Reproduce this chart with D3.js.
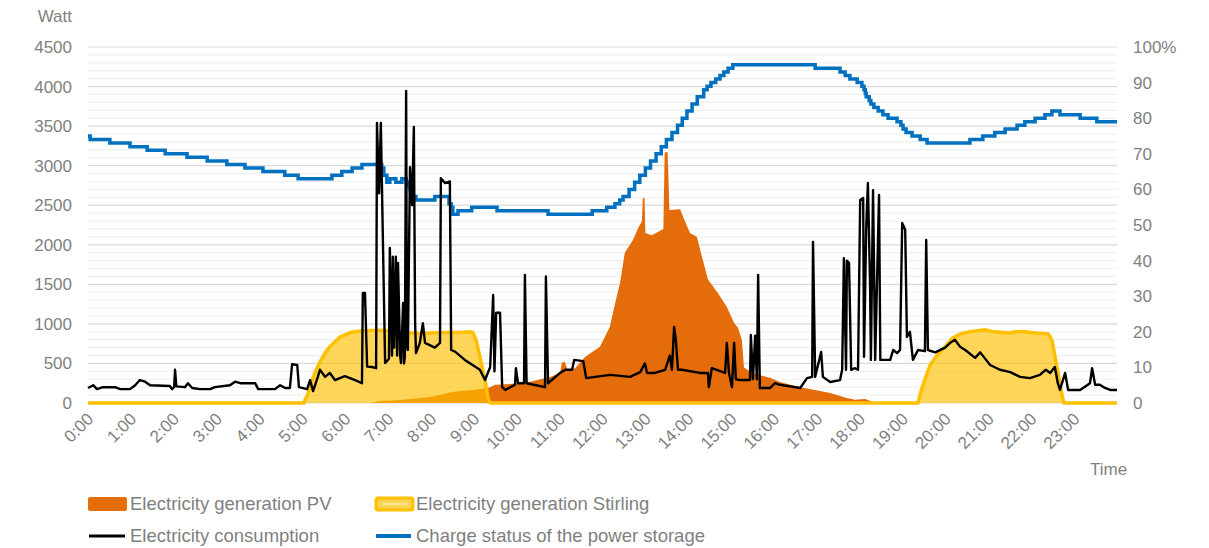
<!DOCTYPE html>
<html>
<head>
<meta charset="utf-8">
<script src="https://cdn.jsdelivr.net/npm/d3@7"></script>
<style>
  body { margin: 0; background: #fff; }
  svg text { font-family: "Liberation Sans", Arial, sans-serif; fill: #7f7f7f; }
</style>
</head>
<body>
<svg id="chart" width="1209" height="548"></svg>
<script>
// tick values
const hours = d3.range(0, 24);
const wattTicks = d3.range(0, 4501, 500);
const pctTicks = d3.range(0, 101, 10);

// [hour, watt]
const pv = [
  [0,0],[6.6,0],[6.8,25],[7.2,35],[7.6,55],[8.0,80],[8.2,100],[8.5,140],[8.75,155],[9.0,165],
  [9.2,180],[9.38,200],[9.49,230],[9.84,240],[10.31,270],[10.78,330],[11.01,380],[11.05,510],
  [11.12,520],[11.18,430],[11.24,420],[11.36,440],[11.59,580],[11.94,710],[12.17,960],[12.29,1250],
  [12.41,1520],[12.52,1900],[12.71,2060],[12.83,2210],[12.92,2300],[12.94,2590],[12.98,2590],
  [13.0,2150],[13.15,2120],[13.29,2160],[13.42,2200],[13.45,3170],[13.52,3170],[13.56,2440],
  [13.81,2450],[13.92,2300],[14.04,2150],[14.2,2100],[14.32,1850],[14.46,1560],[14.69,1390],
  [14.9,1215],[15.07,1010],[15.16,950],[15.25,800],[15.3,450],[15.49,380],[15.67,350],[15.91,320],
  [16.14,265],[16.61,200],[16.96,165],[17.31,125],[17.7,63],[17.89,40],[18.12,50],[18.29,20],
  [18.43,0],[24,0]
];

const stirling = [
  [0,0],[5.04,0],[5.06,40],[5.12,100],[5.18,205],[5.29,380],[5.41,520],[5.53,630],[5.64,710],
  [5.76,775],[5.88,835],[5.99,860],[6.11,890],[6.34,910],[6.81,920],[7.28,895],[7.74,880],
  [8.21,890],[8.68,890],[8.91,900],[8.98,890],[9.05,800],[9.14,585],[9.26,290],[9.33,60],[9.38,0],
  [19.36,0],[19.43,150],[19.52,300],[19.64,480],[19.8,600],[19.99,710],[20.17,825],[20.38,880],
  [20.57,900],[20.92,925],[21.08,905],[21.27,895],[21.5,885],[21.62,900],[21.85,900],[22.09,885],
  [22.39,875],[22.48,800],[22.55,600],[22.62,400],[22.69,180],[22.76,0],[24,0]
];

const consumption = [
  [0,190],[0.12,225],[0.21,175],[0.35,200],[0.63,200],[0.75,175],[0.98,175],[1.1,225],[1.21,290],
  [1.33,270],[1.45,225],[1.91,215],[1.96,175],[2.01,200],[2.03,420],[2.06,210],[2.26,200],[2.33,250],
  [2.43,190],[2.61,175],[2.85,175],[2.96,200],[3.31,225],[3.43,270],[3.55,250],[3.9,250],[3.97,175],
  [4.36,175],[4.48,225],[4.6,190],[4.71,190],[4.76,490],[4.88,480],[4.92,200],[5.11,175],[5.18,290],
  [5.25,150],[5.36,330],[5.41,420],[5.53,330],[5.64,380],[5.76,290],[5.99,340],[6.23,290],[6.39,250],
  [6.41,1390],[6.46,1390],[6.51,460],[6.62,455],[6.72,440],[6.74,3540],[6.79,2650],[6.83,3540],
  [6.88,2000],[6.93,505],[7.02,560],[7.04,1960],[7.09,600],[7.11,1850],[7.14,700],[7.18,1850],
  [7.21,600],[7.23,1770],[7.28,600],[7.3,505],[7.35,1265],[7.37,500],[7.39,580],[7.42,3945],
  [7.44,700],[7.46,670],[7.51,2980],[7.56,2500],[7.6,3490],[7.63,1000],[7.65,630],[7.74,760],
  [7.81,1010],[7.86,760],[8.09,700],[8.21,760],[8.23,2840],[8.33,2780],[8.44,2800],[8.47,670],
  [8.56,650],[8.79,545],[9.14,420],[9.26,290],[9.38,455],[9.45,1365],[9.48,400],[9.52,1140],
  [9.61,1140],[9.66,200],[9.73,165],[9.96,230],[9.98,440],[10.03,250],[10.17,250],[10.19,1620],
  [10.23,250],[10.66,200],[10.68,1600],[10.73,250],[11.01,380],[11.13,420],[11.29,420],[11.34,545],
  [11.55,530],[11.62,315],[11.83,330],[12.18,355],[12.64,330],[12.88,390],[12.99,500],[13.04,380],
  [13.22,380],[13.46,420],[13.57,600],[13.62,420],[13.67,960],[13.71,800],[13.76,420],[13.85,420],
  [14.27,380],[14.46,380],[14.48,200],[14.55,440],[14.86,380],[14.9,760],[14.95,380],[15.02,200],
  [15.07,760],[15.11,300],[15.21,290],[15.44,290],[15.46,860],[15.51,300],[15.56,850],[15.6,300],
  [15.63,1620],[15.67,190],[15.91,190],[16.02,250],[16.14,230],[16.49,200],[16.61,190],[16.77,315],
  [16.89,330],[16.91,2035],[16.96,330],[17.1,645],[17.14,330],[17.31,265],[17.54,290],[17.59,420],
  [17.63,1830],[17.68,420],[17.7,1800],[17.75,1770],[17.8,420],[17.89,440],[17.96,420],[18.01,2565],
  [18.08,2590],[18.1,585],[18.15,2200],[18.19,2780],[18.24,1515],[18.26,545],[18.31,2690],
  [18.36,545],[18.45,2630],[18.48,545],[18.71,545],[18.78,670],[18.87,630],[18.94,670],[18.99,2275],
  [19.06,2190],[19.1,835],[19.17,900],[19.24,545],[19.36,670],[19.52,655],[19.55,2060],[19.59,670],
  [19.76,640],[19.99,700],[20.11,760],[20.22,800],[20.34,710],[20.46,670],[20.69,570],[20.81,640],
  [21.04,480],[21.27,420],[21.51,390],[21.74,330],[21.97,315],[22.2,355],[22.34,420],[22.44,380],
  [22.55,455],[22.62,250],[22.67,165],[22.79,380],[22.86,165],[23.02,165],[23.14,165],[23.37,250],
  [23.42,440],[23.49,230],[23.6,230],[23.72,190],[23.84,165],[24,165]
];

// [hour, percent]
const charge = [
  [0,75],[0.05,74],[0.51,73],[0.98,72],[1.38,71],[1.8,70],[2.31,69],[2.78,68],[3.24,67],[3.66,66],
  [4.08,65],[4.59,64],[4.9,63],[5.69,64],[5.92,65],[6.16,66],[6.39,67],[6.85,66],[6.9,64],[6.97,62],
  [7.04,63],[7.18,62],[7.32,63],[7.42,62],[7.47,61],[7.51,60],[7.58,58],[7.65,57],[8.09,58],[8.42,56],
  [8.47,55],[8.51,53],[8.63,54],[8.95,55],[9.54,54],[10.73,53],[11.76,54],[12.1,55],[12.29,56],
  [12.4,57],[12.48,58],[12.62,60],[12.75,62],[12.87,64],[13.0,66],[13.12,68],[13.25,70],[13.37,72],
  [13.49,74],[13.62,76],[13.75,78],[13.86,80],[13.97,82],[14.09,84],[14.21,86],[14.36,88],[14.44,89],
  [14.53,90],[14.64,91],[14.74,92],[14.83,93],[14.93,94],[15.04,95],[16.96,94],[17.54,93],[17.66,92],
  [17.77,91],[17.94,90],[18.05,89],[18.1,88],[18.13,87],[18.15,86],[18.22,85],[18.26,84],[18.33,83],
  [18.43,82],[18.54,81],[18.66,80],[18.87,79],[18.96,78],[19.01,77],[19.08,76],[19.22,75],[19.41,74],
  [19.57,73],[20.57,74],[20.87,75],[21.15,76],[21.39,77],[21.67,78],[21.85,79],[22.09,80],[22.32,81],
  [22.48,82],[22.67,81],[23.14,80],[23.53,79],[24,79]
];

const svg = d3.select('#chart');
const plotLeft = 88, plotRight = 1117, plotTop = 47, plotBottom = 403;

const x = d3.scaleLinear().domain([0, 24]).range([plotLeft, plotRight]);
const yW = d3.scaleLinear().domain([0, 4500]).range([plotBottom, plotTop]);
const yP = d3.scaleLinear().domain([0, 100]).range([plotBottom, plotTop]);

// grid
svg.append('g')
  .selectAll('line')
  .data(d3.range(0, 4501, 100))
  .enter()
  .append('line')
  .attr('x1', plotLeft).attr('x2', plotRight)
  .attr('y1', d => yW(d)).attr('y2', d => yW(d))
  .attr('stroke', d => d % 500 === 0 ? '#d9d9d9' : '#f0f0f0')
  .attr('stroke-width', 1.2);

// areas
const area = d3.area().x(d => x(d[0])).y0(yW(0)).y1(d => yW(d[1]));
const edge = d3.line().x(d => x(d[0])).y(d => yW(d[1]));

svg.append('path').datum(pv)
  .attr('d', area)
  .attr('fill', '#e46c0a');

svg.append('path').datum(stirling)
  .attr('d', area)
  .attr('fill', '#ffc000')
  .attr('fill-opacity', 0.65);

svg.append('path').datum(stirling)
  .attr('d', edge)
  .attr('fill', 'none')
  .attr('stroke', '#ffc000')
  .attr('stroke-width', 3.5)
  .attr('stroke-linejoin', 'round');

// charge status
svg.append('path').datum(charge)
  .attr('d', d3.line().curve(d3.curveStepAfter).x(d => x(d[0])).y(d => yP(d[1])))
  .attr('fill', 'none')
  .attr('stroke', '#0070c0')
  .attr('stroke-width', 3.5);

// consumption
svg.append('path').datum(consumption)
  .attr('d', edge)
  .attr('fill', 'none')
  .attr('stroke', '#000')
  .attr('stroke-width', 2.4)
  .attr('stroke-linejoin', 'round');

// axes
const leftAxis = svg.append('g')
  .attr('transform', `translate(${plotLeft},0)`)
  .call(d3.axisLeft(yW).tickValues(wattTicks).tickSize(0).tickPadding(16).tickFormat(d3.format('d')));

const rightAxis = svg.append('g')
  .attr('transform', `translate(${plotRight},0)`)
  .call(d3.axisRight(yP).tickValues(pctTicks).tickSize(0).tickPadding(16)
    .tickFormat(d => d === 100 ? '100%' : d));

const xAxis = svg.append('g')
  .attr('transform', `translate(0,${plotBottom})`)
  .call(d3.axisBottom(x).tickValues(hours).tickSize(0).tickFormat(h => h + ':00'));

[leftAxis, rightAxis, xAxis].forEach(g => {
  g.select('.domain').remove();
  g.selectAll('text')
    .attr('font-family', null)
    .attr('fill', null)
    .style('font-size', '17px');
});

xAxis.selectAll('text')
  .attr('x', 0).attr('y', 0).attr('dy', 0)
  .attr('text-anchor', 'end')
  .attr('transform', 'translate(6,17) rotate(-45)');

svg.append('text').attr('x', 72).attr('y', 22)
  .attr('text-anchor', 'end').style('font-size', '17px').text('Watt');
svg.append('text').attr('x', 1090).attr('y', 475)
  .style('font-size', '17px').text('Time');

// legend
const leg = svg.append('g');
leg.append('rect').attr('x', 88).attr('y', 497).attr('width', 39).attr('height', 14)
  .attr('rx', 2).attr('fill', '#e46c0a');
leg.append('rect').attr('x', 376).attr('y', 498).attr('width', 37).attr('height', 12)
  .attr('rx', 2).attr('fill', '#ffd34f').attr('stroke', '#ffc000').attr('stroke-width', 3);
leg.append('line').attr('x1', 382).attr('x2', 407).attr('y1', 504).attr('y2', 504)
  .attr('stroke', '#ffe38a').attr('stroke-width', 3);
leg.append('line').attr('x1', 89).attr('x2', 125).attr('y1', 536).attr('y2', 536)
  .attr('stroke', '#000').attr('stroke-width', 3);
leg.append('line').attr('x1', 376).attr('x2', 411).attr('y1', 536).attr('y2', 536)
  .attr('stroke', '#0070c0').attr('stroke-width', 4);

const legText = [
  ['Electricity generation PV', 130, 510],
  ['Electricity generation Stirling', 416, 510],
  ['Electricity consumption', 130, 542],
  ['Charge status of the power storage', 416, 542]
];
leg.selectAll('text.l')
  .data(legText)
  .enter()
  .append('text')
  .attr('class', 'l')
  .attr('x', d => d[1]).attr('y', d => d[2])
  .style('font-size', '18.5px')
  .text(d => d[0]);
</script>
</body>
</html>
